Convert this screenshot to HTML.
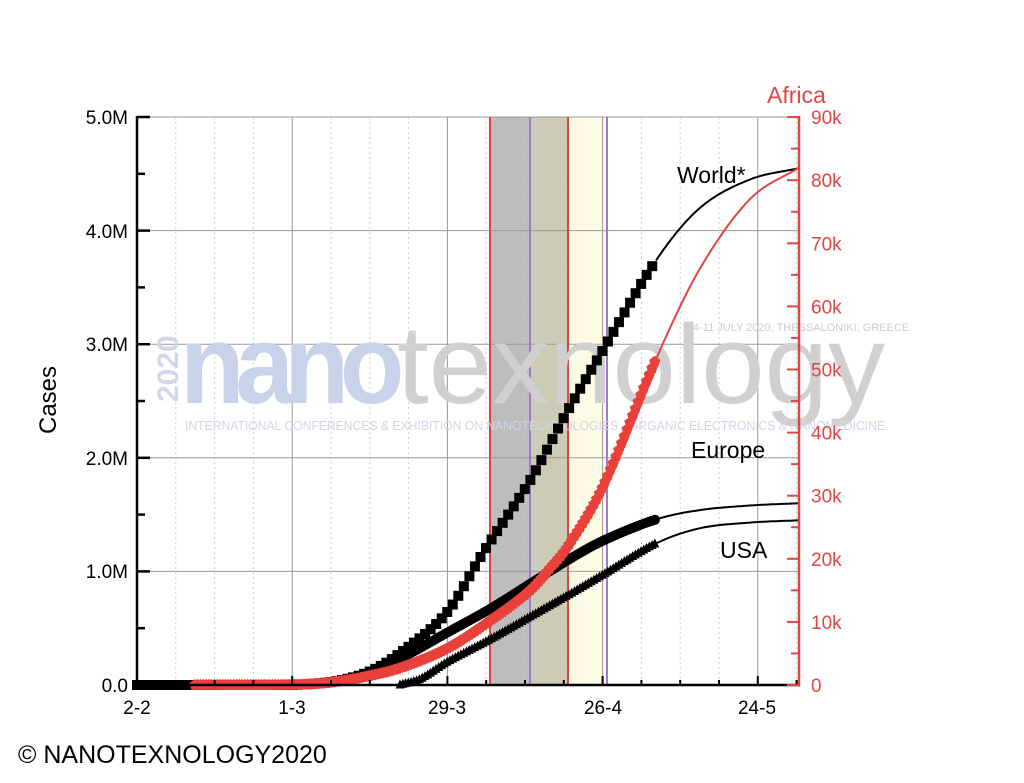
<!DOCTYPE html>
<html><head><meta charset="utf-8"><style>
body{margin:0;background:#fff;}
svg{display:block;font-family:"Liberation Sans",sans-serif;}
</style></head><body>
<svg id="s" width="1024" height="783" viewBox="0 0 1024 783" xmlns="http://www.w3.org/2000/svg">
<rect width="1024" height="783" fill="#fff"/>
<rect x="490" y="117" width="40" height="568" fill="#bdbdbd"/>
<rect x="530" y="117" width="38" height="568" fill="#cccbb6"/>
<rect x="568" y="117" width="38" height="568" fill="#fcfce6"/>
<g id="grid"></g>
<line x1="490" y1="117" x2="490" y2="685" stroke="#e04545" stroke-width="2"/>
<line x1="568" y1="117" x2="568" y2="685" stroke="#e04545" stroke-width="2"/>
<line x1="530" y1="117" x2="530" y2="685" stroke="#a07ad0" stroke-width="2"/>
<line x1="607" y1="117" x2="607" y2="685" stroke="#a07ad0" stroke-width="2"/>
<text x="138" y="398" font-size="30" fill="#cfd8ea" transform="rotate(-90 160 380)" font-weight="bold">2020</text>
<text x="180" y="403" font-size="112" fill="#c8d2e8" font-weight="bold" letter-spacing="-10" textLength="215" lengthAdjust="spacingAndGlyphs">nano</text>
<text x="397" y="403" font-size="112" fill="#d0d0d0" textLength="488" lengthAdjust="spacingAndGlyphs">texnology</text>
<text x="185" y="430" font-size="13" fill="#d0d6e6" textLength="700" lengthAdjust="spacingAndGlyphs">INTERNATIONAL CONFERENCES &amp; EXHIBITION ON NANOTECHNOLOGIES - ORGANIC ELECTRONICS &amp; NANOMEDICINE</text>
<text x="693" y="331" font-size="11" fill="#cccccc">4-11 JULY 2020, THESSALONIKI, GREECE</text>
<g id="series"></g>
<line x1="137" y1="116" x2="137" y2="686" stroke="#000" stroke-width="2.5"/>
<line x1="136" y1="685" x2="800" y2="685" stroke="#000" stroke-width="2.5"/>
<line x1="799" y1="116" x2="799" y2="686" stroke="#e04545" stroke-width="2.5"/>
<g id="ticks"></g>
<g font-size="19" fill="#000" text-anchor="end">
<text x="128" y="692">0.0</text><text x="128" y="578">1.0M</text><text x="128" y="465">2.0M</text>
<text x="128" y="351">3.0M</text><text x="128" y="238">4.0M</text><text x="128" y="124">5.0M</text>
</g>
<g font-size="19" fill="#e04545" text-anchor="start" id="rl"></g>
<g font-size="19" fill="#000" text-anchor="middle">
<text x="137" y="714">2-2</text><text x="292" y="714">1-3</text><text x="447" y="714">29-3</text>
<text x="603" y="714">26-4</text><text x="757" y="714">24-5</text>
</g>
<text x="56" y="400" font-size="24" transform="rotate(-90 56 400)" text-anchor="middle">Cases</text>
<text x="767" y="103" font-size="23" fill="#e04545">Africa</text>
<text x="677" y="183" font-size="23">World*</text>
<text x="691" y="458" font-size="23">Europe</text>
<text x="720" y="558" font-size="23">USA</text>
<text x="18" y="763" font-size="25">© NANOTEXNOLOGY2020</text>
</svg>
<script>
var NS="http://www.w3.org/2000/svg";
function el(p,t,a){var e=document.createElementNS(NS,t);for(var k in a)e.setAttribute(k,a[k]);document.getElementById(p).appendChild(e);return e;}
for(var i=0;i<=17;i++){var x=137+i*38.8;if(x>798)break;var maj=(i%4==0);
 if(i>0) el("grid","line",{x1:x,y1:117,x2:x,y2:685,stroke:maj?"#999":"#ccc","stroke-width":1,"stroke-dasharray":maj?"":"2,3"});
 el("ticks","line",{x1:x,y1:685,x2:x,y2:maj?676:680,stroke:"#000","stroke-width":2});}
for(var m=1;m<=5;m++){var y=685-m*113.6;el("grid","line",{x1:137,y1:y,x2:799,y2:y,stroke:"#999","stroke-width":1});}
for(var h=0;h<=10;h++){var y=685-h*56.8;el("ticks","line",{x1:137,y1:y,x2:h%2?145:150,y2:y,stroke:"#000","stroke-width":2.5});}
for(var k=0;k<=18;k++){var y=685-k*31.55;el("ticks","line",{x1:799,y1:y,x2:k%2?791:787,y2:y,stroke:"#e04545","stroke-width":2});}
for(var k=0;k<=9;k++){var t=el("rl","text",{x:811,y:685-k*63.1+7});t.textContent=k==0?"0":(k*10)+"k";}
function mk(pts){return function(x){
 for(var i=0;i<pts.length-1;i++){if(x<=pts[i+1][0]){var a=pts[i],b=pts[i+1];var t=(x-a[0])/(b[0]-a[0]);
  var p0=pts[Math.max(0,i-1)],p3=pts[Math.min(pts.length-1,i+2)];
  var m1=(b[1]-p0[1])/(b[0]-p0[0])*(b[0]-a[0]),m2=(p3[1]-a[1])/(p3[0]-a[0])*(b[0]-a[0]);
  var lo=Math.min(a[1],b[1]),hi=Math.max(a[1],b[1]);
  var t2=t*t,t3=t2*t;var v=(2*t3-3*t2+1)*a[1]+(t3-2*t2+t)*m1+(-2*t3+3*t2)*b[1]+(t3-t2)*m2;
  return Math.min(hi,Math.max(lo,v));}}
 return pts[pts.length-1][1];};}
var W=mk([[137,0],[280,0.0],[310,0.008],[340,0.04],[370,0.12],[400,0.28],[447,0.64],[480,1.12],[490,1.26],[530,1.8],[568,2.42],[603,2.95],[657,3.75],[700,4.2],[750,4.45],[799,4.55]]);
var E=mk([[137,0],[280,0.0],[310,0.008],[340,0.04],[370,0.11],[400,0.23],[447,0.46],[490,0.67],[530,0.89],[568,1.1],[603,1.27],[657,1.46],[700,1.54],[750,1.58],[799,1.6]]);
var U=mk([[400,0.0],[420,0.05],[447,0.2],[490,0.4],[530,0.6],[568,0.79],[603,0.97],[657,1.25],[700,1.38],[750,1.43],[799,1.45]]);
var A=mk([[195,0],[300,0.05],[330,0.4],[365,1.3],[400,2.7],[447,5.8],[490,10.2],[530,15],[550,18.5],[568,22],[603,31.5],[657,52],[700,66],[750,77],[799,82]]);
function YM(v){return 685-v*113.6;} function YA(v){return 685-v*6.31;}
function line(f,Y,col,x1){var p="";for(var x=x1;x<=799;x+=2){p+=(p?"L":"M")+x+","+Y(f(x)).toFixed(1);}
 el("series","path",{d:p,fill:"none",stroke:col,"stroke-width":2});}
line(W,YM,"#000",656);line(E,YM,"#000",656);line(U,YM,"#000",656);line(A,YA,"#e04545",656);
for(var x=137;x<=657;x+=5.54){var y=YM(W(x));el("series","rect",{x:x-5,y:y-5,width:10,height:10,fill:"#000"});}
for(var x=137;x<=657;x+=2.77){var y=YM(E(x));el("series","circle",{cx:x,cy:y,r:5,fill:"#000"});}
for(var x=400;x<=657;x+=2.77){var y=YM(U(x));el("series","path",{d:"M"+(x-4.5)+","+(y+3.5)+"L"+(x+4.5)+","+(y+3.5)+"L"+x+","+(y-5.5)+"Z",fill:"#000"});}
for(var x=195;x<=657;x+=2.77){var y=YA(A(x));var p="";for(var j=0;j<5;j++){var a=-Math.PI/2+j*2*Math.PI/5;p+=(j?"L":"M")+(x+6*Math.cos(a)).toFixed(1)+","+(y+6*Math.sin(a)).toFixed(1);}
 el("series","path",{d:p+"Z",fill:"#e8403a"});}
</script>
</body></html>
